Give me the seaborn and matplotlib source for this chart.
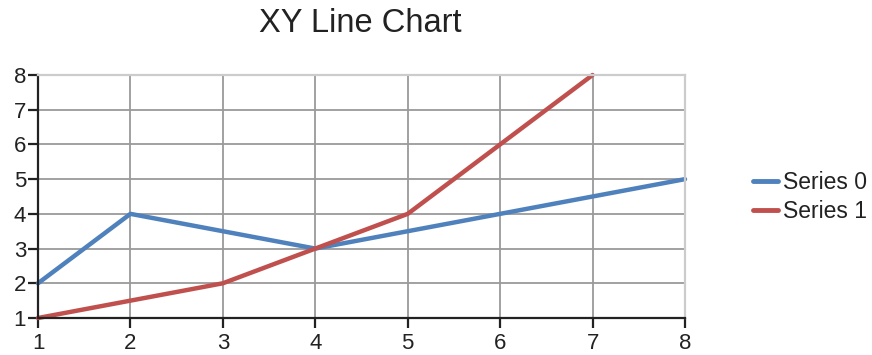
import matplotlib
matplotlib.use("Agg")
import matplotlib.pyplot as plt
import pandas as pd
import seaborn as sns

# chart data
series_names = ["Series 0", "Series 1"]
x_s0 = [1, 2, 3, 4, 5, 6, 7, 8]
y_s0 = [2, 4, 3.5, 3, 3.5, 4, 4.5, 5]
x_s1 = [1, 2, 3, 4, 5, 6, 7]
y_s1 = [1, 1.5, 2, 3, 4, 6, 8]
ticks = [1, 2, 3, 4, 5, 6, 7, 8]
colors = ["#4F81BD", "#C0504D"]

df = pd.concat([
    pd.DataFrame({"x": x_s0, "y": y_s0, "series": series_names[0]}),
    pd.DataFrame({"x": x_s1, "y": y_s1, "series": series_names[1]}),
])

sns.set_style("white")
plt.rcParams['font.family'] = ['Liberation Sans', 'DejaVu Sans']

fig = plt.figure(figsize=(8.72, 3.55), dpi=100)
ax = fig.add_axes([38 / 872, 1 - 318 / 355, (685 - 38) / 872, (318 - 75) / 355])

sns.lineplot(data=df, x="x", y="y", hue="series", palette=colors,
             linewidth=3.2, sort=False, ax=ax, legend=False, clip_on=False)

ax.set_xlim(1, 8)
ax.set_ylim(1, 8)
ax.set_xticks(ticks)
ax.set_yticks(ticks)
ax.set_xlabel("")
ax.set_ylabel("")
ax.grid(True, color="#9a9a9a", linewidth=1.3)
ax.set_axisbelow(True)
for side in ["left", "bottom"]:
    ax.spines[side].set_color("#222222")
    ax.spines[side].set_linewidth(1.6)
for side in ["top", "right"]:
    ax.spines[side].set_color("#cccccc")
    ax.spines[side].set_linewidth(1.6)
ax.tick_params(axis="both", direction="out", length=7.5, width=1.6, color="#222222",
               labelsize=16, labelcolor="#222222", pad=1,
               left=True, bottom=True)
ax.tick_params(axis="x", pad=3)

fig.text(360 / 872, 1 - 23 / 355, "XY Line Chart", ha="center", va="center",
         fontsize=23.5, color="#222222")

handles = [plt.Line2D([], [], color=c, linewidth=3.5) for c in colors]
fig.legend(handles, series_names, loc="center left",
           bbox_to_anchor=(753 / 872, 1 - 197 / 355), frameon=False,
           fontsize=16.5, handlelength=1.1, handletextpad=0.2,
           labelspacing=0.3, borderpad=0, borderaxespad=0,
           labelcolor="#222222")

fig.savefig("out.png", dpi=100)
